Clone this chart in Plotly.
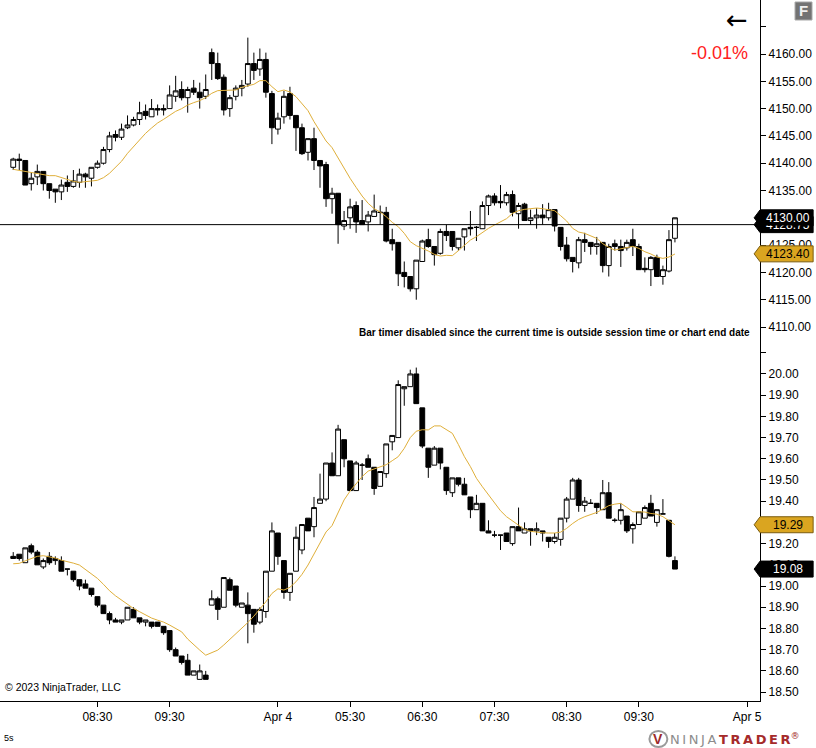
"""NinjaTrader style ES / VIX candlestick chart, 5 minute bars."""

import plotly.graph_objects as go

WIDTH = 816
HEIGHT = 748
AXIS_X = 762 / WIDTH
SPLIT = 1 - 347 / HEIGHT
BOTTOM = 1 - 701 / HEIGHT

INK = "black"
GOLD = "#DAA520"
AVG_LINE = "#DFAF3A"
FONT = "Liberation Sans"

# top panel, bars in chart order
top_open = [
    4139.25, 4140.75, 4140.5, 4136.25, 4137.5, 4138.5, 4136.25, 4135.25, 4134.75, 4136.5,
    4135.75, 4136.5, 4138, 4137.25, 4139.25, 4140, 4142.5, 4145.25, 4144.75, 4146.5,
    4147, 4148, 4149.5, 4148.5, 4150, 4150, 4150, 4152.25, 4153.5, 4152,
    4153.75, 4153, 4152.25, 4160.25, 4158.25, 4155.75, 4150, 4152.25, 4153.75, 4154.5,
    4158.25, 4157.25, 4159, 4152.75, 4146.25, 4148.5, 4152.75, 4148.75, 4146.5, 4142,
    4144.5, 4140.5, 4139.75, 4133.5, 4134.5, 4128.5, 4130, 4132.25, 4129.5, 4129.25,
    4130.25, 4131, 4131, 4126, 4125.5, 4120, 4119.25, 4117, 4122, 4126,
    4124.75, 4123.5, 4127.5, 4127.5, 4124.5, 4126.5, 4128.25, 4128.25, 4128, 4132.25,
    4134, 4133, 4132.75, 4134.25, 4130.75, 4132.5, 4129.5, 4130, 4130.5, 4130,
    4131.5, 4128.25, 4125, 4122.75, 4121.75, 4126, 4125.5, 4124.75, 4125.5, 4121.25,
    4125.25, 4124.75, 4124.5, 4126, 4124.75, 4120.75, 4120.5, 4122.75, 4119.25, 4120.25,
    4126.25,
]
top_high = [
    4141, 4141.75, 4140.5, 4138.25, 4139.75, 4138.5, 4136.25, 4135.25, 4137, 4137.75,
    4138.75, 4139, 4138.25, 4139.25, 4140.5, 4143, 4145.75, 4146, 4147.25, 4148.75,
    4148.5, 4151.25, 4150.75, 4151.75, 4150.75, 4150.75, 4154.25, 4156, 4155, 4154,
    4155.25, 4154.75, 4156.25, 4161, 4160.25, 4156.25, 4152.5, 4154.25, 4155.25, 4163,
    4160.25, 4161, 4160.25, 4153.25, 4149.25, 4153.25, 4154, 4148.75, 4147.25, 4144.5,
    4146.5, 4140.5, 4140.25, 4135.5, 4134.5, 4131.25, 4133.5, 4133, 4133.25, 4131.25,
    4134.25, 4132.25, 4132, 4128, 4125.5, 4122, 4119.25, 4122.25, 4126, 4128,
    4124.75, 4128, 4128.75, 4127.5, 4126.25, 4128, 4131.25, 4128.5, 4133, 4134.25,
    4134.5, 4136, 4134.75, 4135, 4132.75, 4132.75, 4131.5, 4131.75, 4132.5, 4132.75,
    4131.5, 4128.25, 4126.5, 4122.75, 4126.5, 4127.25, 4125.5, 4126.5, 4125.5, 4125.25,
    4126, 4126, 4126, 4128, 4125.25, 4122.75, 4123, 4123.25, 4121.25, 4127.75,
    4130,
]
top_low = [
    4138.75, 4138.75, 4136, 4135, 4136, 4135, 4133.5, 4132.75, 4133.25, 4134.75,
    4135.5, 4135.5, 4135.5, 4135.75, 4139, 4139.75, 4142, 4144, 4144.25, 4146.25,
    4146.75, 4147, 4148, 4148.5, 4148.75, 4148.75, 4150, 4151.25, 4151.5, 4149.25,
    4152.5, 4150, 4151.75, 4155.25, 4155.25, 4148.75, 4148.5, 4151.5, 4152.25, 4154,
    4155.25, 4156, 4152, 4143.5, 4145.25, 4147.25, 4148, 4142.25, 4141.5, 4140.5,
    4138.75, 4135.5, 4132, 4130.75, 4125.25, 4127.75, 4128, 4127.25, 4128.75, 4127.5,
    4130.25, 4128.75, 4125.5, 4124, 4117.5, 4117.25, 4116.5, 4115, 4122, 4124.5,
    4121.25, 4123.25, 4125.75, 4124, 4124, 4124, 4126.75, 4125.75, 4128, 4130.5,
    4132.25, 4131.75, 4132.25, 4130.25, 4128, 4129.5, 4128.75, 4128, 4128.75, 4129.5,
    4127.5, 4124, 4122, 4120, 4120.75, 4123.75, 4123.25, 4123.25, 4120, 4119.25,
    4124, 4121, 4124, 4123, 4120.5, 4120, 4117.5, 4119.25, 4117.75, 4120,
    4125.5,
]
top_close = [
    4140.75, 4140.5, 4136, 4137.25, 4138.5, 4136.25, 4135, 4134.75, 4136, 4135.75,
    4136.75, 4138, 4137.5, 4139.25, 4140, 4142.5, 4145, 4144.75, 4146.25, 4147,
    4148, 4149.25, 4148.75, 4150, 4149.75, 4149.75, 4152.5, 4153.25, 4152, 4153.5,
    4153, 4152, 4153.5, 4158.25, 4155.5, 4149.75, 4152, 4153.75, 4154.25, 4158.25,
    4157, 4159, 4153, 4146.5, 4148.25, 4152.25, 4148.75, 4146.5, 4141.75, 4144.5,
    4140.5, 4139.5, 4133.5, 4134.5, 4128.75, 4129.5, 4132, 4129.25, 4128.75, 4130.5,
    4131.25, 4131, 4125.75, 4125.25, 4119.75, 4119.25, 4117, 4122.25, 4125.75, 4124.75,
    4123.25, 4127.5, 4126.75, 4124.75, 4126.25, 4128, 4128, 4128.25, 4132.25, 4134,
    4132.75, 4132.75, 4134.25, 4131, 4132.25, 4129.5, 4130, 4130.5, 4130, 4131.5,
    4128.5, 4124.75, 4122.5, 4122, 4126, 4125.5, 4124.75, 4125.25, 4121.25, 4124.75,
    4124.75, 4124, 4125.5, 4124.75, 4120.5, 4120.5, 4122.75, 4119.25, 4120.5, 4126,
    4130,
]
top_avg = [
    4138.88, 4138.7, 4138.51, 4138.33, 4138.09, 4137.9, 4137.72, 4137.72, 4137.35, 4136.99,
    4136.68, 4136.5, 4136.56, 4136.74, 4136.87, 4137.35, 4138.15, 4139.25, 4140.35, 4141.81,
    4143.03, 4144.25, 4145.47, 4146.45, 4147.37, 4148.04, 4148.77, 4149.5, 4149.99, 4150.66,
    4151.09, 4151.46, 4152.01, 4152.8, 4153.29, 4153.29, 4153.29, 4153.41, 4153.9, 4154.2,
    4154.45, 4155.12, 4155.12, 4154.02, 4153.1, 4153.41, 4153.04, 4152.19, 4150.97, 4149.62,
    4147.61, 4145.78, 4144.07, 4142.85, 4140.89, 4138.94, 4137.23, 4135.58, 4133.99, 4132.65,
    4131.67, 4131.07, 4130.21, 4129.17, 4128.38, 4127.16, 4125.63, 4124.9, 4124.47, 4123.92,
    4123.31, 4123, 4123.13, 4123.07, 4123.98, 4125.02, 4125.93, 4126.54, 4127.34, 4128.07,
    4128.68, 4129.29, 4129.84, 4130.81, 4131.3, 4131.55, 4131.67, 4131.79, 4131.67, 4131.55,
    4131.3, 4130.39, 4129.41, 4128.07, 4127.39, 4127.15, 4126.72, 4126.23, 4125.26, 4124.59,
    4124.1, 4124.34, 4124.46, 4124.77, 4124.4, 4123.79, 4123.37, 4122.82, 4122.57, 4122.82,
    4123.37,
]

# bottom panel
low_open = [
    19.14, 19.15, 19.11, 19.19, 19.16, 19.09, 19.14, 19.12, 19.12, 19.08,
    19.07, 19.03, 19.01, 18.99, 18.95, 18.91, 18.87, 18.84, 18.83, 18.84,
    18.89, 18.85, 18.83, 18.83, 18.83, 18.81, 18.79, 18.70, 18.67, 18.65,
    18.58, 18.56, 18.58, 18.91, 18.94, 18.90, 19.03, 19.00, 18.90, 18.91,
    18.89, 18.83, 18.88, 19.07, 19.25, 19.12, 18.97, 19.07, 19.17, 19.32,
    19.28, 19.39, 19.41, 19.58, 19.52, 19.69, 19.59, 19.45, 19.57, 19.60,
    19.56, 19.47, 19.53, 19.68, 19.70, 19.93, 19.94, 20.00, 19.84, 19.65,
    19.57, 19.65, 19.56, 19.44, 19.51, 19.48, 19.42, 19.36, 19.39, 19.26,
    19.24, 19.24, 19.25, 19.20, 19.28, 19.25, 19.27, 19.26, 19.26, 19.23,
    19.21, 19.22, 19.32, 19.41, 19.50, 19.38, 19.39, 19.39, 19.36, 19.44,
    19.31, 19.31, 19.33, 19.27, 19.29, 19.32, 19.39, 19.30, 19.34, 19.31,
    19.12,
]
low_high = [
    19.16, 19.15, 19.18, 19.20, 19.17, 19.13, 19.16, 19.14, 19.14, 19.08,
    19.07, 19.03, 19.03, 18.99, 18.95, 18.91, 18.88, 18.85, 18.84, 18.90,
    18.90, 18.85, 18.84, 18.83, 18.83, 18.81, 18.79, 18.71, 18.67, 18.68,
    18.60, 18.63, 18.60, 18.98, 18.95, 19.04, 19.04, 19.00, 18.92, 18.97,
    18.89, 18.90, 19.07, 19.30, 19.25, 19.12, 19.06, 19.28, 19.29, 19.32,
    19.42, 19.53, 19.58, 19.63, 19.76, 19.69, 19.59, 19.59, 19.58, 19.62,
    19.56, 19.54, 19.67, 19.71, 19.97, 19.94, 20.02, 20.03, 19.84, 19.65,
    19.66, 19.65, 19.56, 19.51, 19.51, 19.51, 19.42, 19.43, 19.39, 19.31,
    19.26, 19.24, 19.25, 19.28, 19.37, 19.30, 19.27, 19.30, 19.26, 19.23,
    19.25, 19.32, 19.42, 19.51, 19.51, 19.42, 19.41, 19.39, 19.50, 19.49,
    19.32, 19.39, 19.33, 19.30, 19.35, 19.38, 19.43, 19.36, 19.41, 19.31,
    19.14,
]
low_low = [
    19.13, 19.12, 19.11, 19.15, 19.10, 19.08, 19.10, 19.10, 19.07, 19.05,
    19.02, 18.98, 18.99, 18.95, 18.90, 18.87, 18.82, 18.83, 18.82, 18.84,
    18.85, 18.82, 18.81, 18.80, 18.81, 18.77, 18.69, 18.67, 18.63, 18.58,
    18.58, 18.56, 18.56, 18.91, 18.84, 18.90, 18.98, 18.90, 18.90, 18.73,
    18.78, 18.82, 18.85, 19.07, 19.10, 18.94, 18.93, 19.07, 19.15, 19.26,
    19.23, 19.39, 19.40, 19.52, 19.52, 19.56, 19.45, 19.45, 19.50, 19.56,
    19.43, 19.47, 19.51, 19.64, 19.70, 19.85, 19.94, 19.86, 19.65, 19.51,
    19.57, 19.55, 19.43, 19.42, 19.47, 19.43, 19.32, 19.36, 19.26, 19.25,
    19.23, 19.17, 19.21, 19.19, 19.26, 19.25, 19.19, 19.24, 19.21, 19.18,
    19.20, 19.19, 19.30, 19.41, 19.35, 19.35, 19.39, 19.34, 19.36, 19.32,
    19.30, 19.29, 19.25, 19.20, 19.29, 19.32, 19.33, 19.28, 19.34, 19.135,
    19.08,
]
low_close = [
    19.13, 19.13, 19.18, 19.16, 19.10, 19.12, 19.11, 19.13, 19.07, 19.08,
    19.03, 19.00, 18.99, 18.96, 18.91, 18.87, 18.84, 18.83, 18.84, 18.90,
    18.85, 18.83, 18.84, 18.81, 18.81, 18.78, 18.70, 18.67, 18.64, 18.58,
    18.60, 18.60, 18.56, 18.94, 18.89, 19.04, 18.98, 18.91, 18.92, 18.87,
    18.82, 18.89, 19.07, 19.26, 19.14, 18.97, 19.06, 19.23, 19.29, 19.26,
    19.37, 19.41, 19.58, 19.52, 19.74, 19.60, 19.45, 19.58, 19.57, 19.56,
    19.46, 19.54, 19.67, 19.71, 19.95, 19.94, 20.00, 19.86, 19.66, 19.56,
    19.65, 19.58, 19.45, 19.51, 19.48, 19.43, 19.36, 19.39, 19.26, 19.25,
    19.24, 19.24, 19.21, 19.28, 19.26, 19.27, 19.26, 19.27, 19.25, 19.21,
    19.23, 19.32, 19.41, 19.50, 19.38, 19.40, 19.39, 19.37, 19.44, 19.32,
    19.31, 19.36, 19.26, 19.29, 19.35, 19.37, 19.33, 19.36, 19.34, 19.14,
    19.08,
]
low_avg = [
    19.105, 19.107, 19.119, 19.13, 19.14, 19.143, 19.138, 19.132, 19.122, 19.116,
    19.108, 19.099, 19.078, 19.06, 19.036, 19.008, 18.978, 18.954, 18.934, 18.915,
    18.894, 18.879, 18.863, 18.849, 18.839, 18.83, 18.816, 18.80, 18.784, 18.75,
    18.722, 18.698, 18.674, 18.687, 18.698, 18.722, 18.748, 18.775, 18.803, 18.828,
    18.858, 18.89, 18.926, 18.965, 18.987, 18.981, 18.994, 19.02, 19.055, 19.099,
    19.149, 19.204, 19.255, 19.285, 19.343, 19.406, 19.448, 19.484, 19.516, 19.542,
    19.552, 19.56, 19.572, 19.591, 19.61, 19.649, 19.70, 19.73, 19.737, 19.736,
    19.755, 19.755, 19.739, 19.72, 19.667, 19.61, 19.563, 19.508, 19.468, 19.429,
    19.39, 19.355, 19.327, 19.306, 19.284, 19.267, 19.258, 19.254, 19.251, 19.25,
    19.25, 19.254, 19.272, 19.295, 19.314, 19.327, 19.338, 19.347, 19.363, 19.379,
    19.386, 19.39, 19.371, 19.35, 19.35, 19.349, 19.342, 19.339, 19.327, 19.306,
    19.289,
]

bar_index = list(range(len(top_open)))

time_ticks = [14, 26, 44, 56, 68, 80, 92, 104, 122]
time_labels = ["08:30", "09:30", "Apr 4", "05:30", "06:30", "07:30", "08:30", "09:30", "Apr 5"]

top_ticks = [4110, 4115, 4120, 4125, 4130, 4135, 4140, 4145, 4150, 4155, 4160, 4165]
top_labels = [f"{t:.2f}" for t in top_ticks[:-1]] + [""]
low_ticks = [18.5, 18.6, 18.7, 18.8, 18.9, 19.0, 19.1, 19.2, 19.3, 19.4, 19.5, 19.6, 19.7, 19.8, 19.9, 20.0, 20.1]
low_labels = [f"{t:.2f}" for t in low_ticks[:-1]] + [""]

LAST_LINE = 4128.75


def candles(opens, highs, lows, closes, xaxis, yaxis):
    return go.Candlestick(
        x=bar_index, open=opens, high=highs, low=lows, close=closes,
        xaxis=xaxis, yaxis=yaxis, whiskerwidth=0,
        increasing=dict(line=dict(color=INK, width=1), fillcolor="white"),
        decreasing=dict(line=dict(color=INK, width=1), fillcolor=INK),
        showlegend=False,
    )


def average(values, xaxis, yaxis):
    return go.Scatter(
        x=bar_index, y=values, mode="lines", xaxis=xaxis, yaxis=yaxis,
        line=dict(color=AVG_LINE, width=1), showlegend=False,
    )


def price_flag(yref, value, fill, edge):
    return dict(
        type="path", xref="paper", yref=yref, xsizemode="pixel", ysizemode="pixel",
        xanchor=AXIS_X, yanchor=value, path="M-6,0 L0,8 L53,8 L53,-8 L0,-8 Z",
        fillcolor=fill, line=dict(color=edge, width=1), layer="above",
    )


def flag_text(yref, value, label, color, background=None):
    return dict(
        xref="paper", yref=yref, x=790 / WIDTH, y=value, text=label, showarrow=False,
        xanchor="center", yanchor="middle",
        font=dict(family=FONT, size=12, color=color), bgcolor=background,
        borderpad=0,
    )


def page_text(x, y, label, size, color=INK, anchor="left", family=FONT):
    return dict(
        xref="paper", yref="paper", x=x / WIDTH, y=1 - y / HEIGHT, text=label,
        showarrow=False, xanchor=anchor, yanchor="middle",
        font=dict(family=family, size=size, color=color),
    )


fig = go.Figure()
fig.add_trace(candles(top_open, top_high, top_low, top_close, "x2", "y"))
fig.add_trace(average(top_avg, "x2", "y"))
fig.add_trace(candles(low_open, low_high, low_low, low_close, "x", "y2"))
fig.add_trace(average(low_avg, "x", "y2"))

shapes = [
    dict(type="line", xref="x2", yref="y", x0=-3, x1=124.16, y0=LAST_LINE, y1=LAST_LINE,
         line=dict(color=INK, width=1), layer="above"),
    price_flag("y", LAST_LINE, INK, INK),
    price_flag("y", 4130.00, INK, INK),
    price_flag("y", top_avg[-1] + 0.03, GOLD, "#7a5c10"),
    price_flag("y2", low_avg[-1], GOLD, "#7a5c10"),
    price_flag("y2", low_close[-1], INK, INK),
    dict(type="rect", xref="paper", yref="paper", x0=797 / WIDTH, x1=814 / WIDTH,
         y0=1 - 20 / HEIGHT, y1=1 - 2 / HEIGHT, fillcolor="#737373",
         line=dict(color="#a8a8a8", width=1)),
    dict(type="circle", xref="paper", yref="paper", x0=651 / WIDTH, x1=669 / WIDTH,
         y0=1 - 747 / HEIGHT, y1=1 - 731 / HEIGHT, line=dict(color="#9a9a9a", width=2)),
]

annotations = [
    flag_text("y", LAST_LINE, "4128.75", "white"),
    flag_text("y", 4130.00, "4130.00", "white", INK),
    flag_text("y", 4123.40, "4123.40", INK),
    flag_text("y2", 19.29, "19.29", INK),
    flag_text("y2", 19.08, "19.08", "white"),
    page_text(739, 20, "←", 26, family="DejaVu Sans", anchor="center"),
    page_text(721, 53, "-0.01%", 18, color="#ff2020", anchor="center"),
    page_text(805.5, 11, "<b>F</b>", 15, color="#f0f0f0", anchor="center"),
    page_text(754, 332, "<b>Bar timer disabled since the current time is outside session time or chart end date</b>",
              10, anchor="right"),
    page_text(3, 687, "© 2023 NinjaTrader, LLC", 10.5),
    page_text(2, 738, "5s", 9),
    page_text(660, 739, "<b>V</b>", 14, color="#9c2a2a", anchor="center"),
    page_text(670, 739,
              "<span style='color:#8c8c8c'>N\u2009I\u2009N\u2009J\u2009A</span>"
              "<b style='color:#a52a2a'>\u2009T\u2009R\u2009A\u2009D\u2009E\u2009R</b>"
              "<span style='color:#a52a2a'><sup>®</sup></span>",
              13, family="DejaVu Sans"),
]

axis_font = dict(family=FONT, size=12, color=INK)
fig.update_layout(
    width=WIDTH, height=HEIGHT, margin=dict(l=0, r=0, t=0, b=0),
    paper_bgcolor="white", plot_bgcolor="white", showlegend=False,
    boxmode="overlay", boxgap=0.2, boxgroupgap=0,
    xaxis=dict(
        domain=[0, AXIS_X], anchor="y2", range=[-2.2, 124.16], tickvals=time_ticks,
        ticktext=time_labels, ticks="outside", ticklen=5, tickcolor=INK, showline=True,
        linecolor=INK, showgrid=False, zeroline=False, tickfont=axis_font,
        rangeslider=dict(visible=False),
    ),
    xaxis2=dict(
        domain=[0, AXIS_X], anchor="y", range=[-2.2, 124.16], visible=False,
        showgrid=False, zeroline=False, rangeslider=dict(visible=False),
    ),
    yaxis=dict(
        domain=[SPLIT, 1], anchor="x2", side="right", range=[4106.34, 4169.89],
        tickvals=top_ticks, ticktext=top_labels, ticks="outside", ticklen=5, tickcolor=INK,
        showline=True, linecolor=INK, showgrid=False, zeroline=False, tickfont=axis_font,
    ),
    yaxis2=dict(
        domain=[BOTTOM, SPLIT], anchor="x", side="right", range=[18.458, 20.127],
        tickvals=low_ticks, ticktext=low_labels, ticks="outside", ticklen=5, tickcolor=INK,
        showline=True, linecolor=INK, showgrid=False, zeroline=False, tickfont=axis_font,
    ),
    shapes=shapes,
    annotations=annotations,
)

fig.write_html(
    "out.html",
    config={"displayModeBar": False},
    post_script="document.body.style.margin='0';document.documentElement.style.overflow='hidden';",
)
